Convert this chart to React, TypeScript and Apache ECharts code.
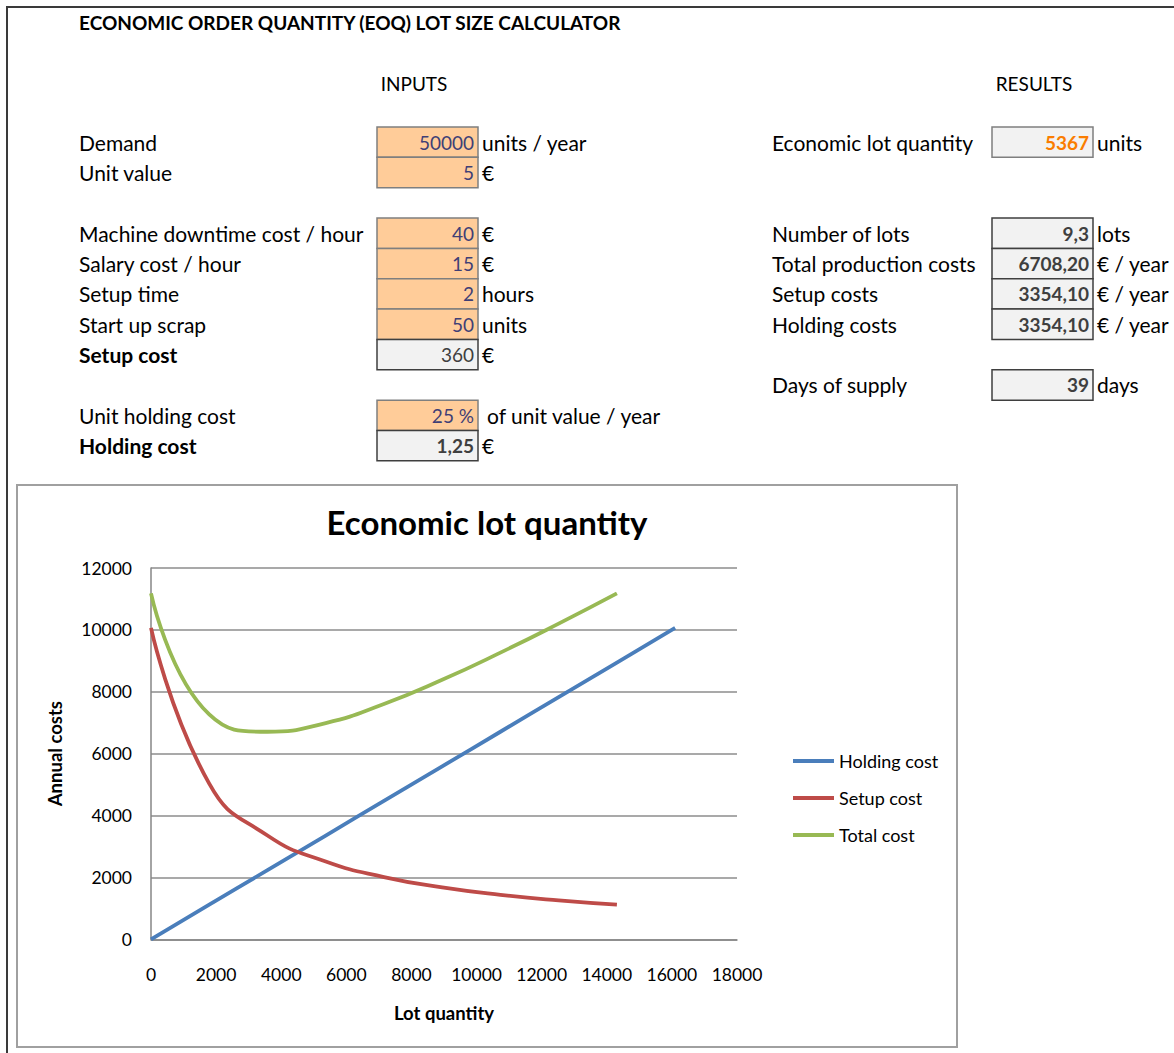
import { useEffect, useRef } from "react";
import * as echarts from "echarts";

// EOQ curve table: lot quantity steps of EOQ/3
const holdingLotQty = [0, 1789, 3578, 5367, 7155, 8944, 10733, 12522, 14311, 16100];
const holdingCost = [0, 1118, 2236, 3354, 4472, 5590, 6708, 7826, 8944, 10062];
const setupLotQty = [0, 1789, 3578, 5367, 7155, 8944, 10733, 12522, 14311];
const setupCost = [10062, 5031, 3354, 2516, 2012, 1677, 1437, 1258, 1118];
const totalCost = [11180, 7267, 6708, 6988, 7603, 8385, 9264, 10202, 11180];

// Calculator sheet
const inputLabels = [
  "Demand",
  "Unit value",
  "Machine downtime cost / hour",
  "Salary cost / hour",
  "Setup time",
  "Start up scrap",
  "Setup cost",
  "Unit holding cost",
  "Holding cost",
];
const inputValues = ["50000", "5", "40", "15", "2", "50", "360", "25 %", "1,25"];
const inputUnits = ["units / year", "€", "€", "€", "hours", "units", "€", "of unit value / year", "€"];
const inputKinds = ["in", "in", "in", "in", "in", "in", "out", "in", "out"];
const inputRows = [0, 1, 3, 4, 5, 6, 7, 9, 10];

const resultLabels = [
  "Economic lot quantity",
  "Number of lots",
  "Total production costs",
  "Setup costs",
  "Holding costs",
  "Days of supply",
];
const resultValues = ["5367", "9,3", "6708,20", "3354,10", "3354,10", "39"];
const resultUnits = ["units", "lots", "€ / year", "€ / year", "€ / year", "days"];
const resultKinds = ["calc", "out", "out", "out", "out", "out"];
const resultRows = [0, 3, 4, 5, 6, 8];

const FONT = "Lato";
const ROW_TOP = 127;
const ROW_H = 30.35;
const LABEL_SIZE = 21;
const VALUE_SIZE = 19;
const SMOOTH = 0.5;

function txt(x: number, y: number, text: string, opts: any = {}) {
  const align = opts.align || "left";
  return {
    type: "text",
    x,
    y,
    silent: true,
    style: {
      text,
      fontFamily: FONT,
      fontSize: opts.size || LABEL_SIZE,
      fontWeight: opts.bold ? "bold" : "normal",
      fill: opts.color || "#000",
      textAlign: align,
      align,
      textVerticalAlign: "middle",
      verticalAlign: "middle",
    },
  };
}

const cellStyles: Record<string, { fill: string; stroke: string; color: string }> = {
  in: { fill: "#FFCC99", stroke: "#7F7F7F", color: "#3F3F76" },
  out: { fill: "#F2F2F2", stroke: "#3F3F3F", color: "#3F3F3F" },
  calc: { fill: "#F2F2F2", stroke: "#7F7F7F", color: "#FA7D00" },
};

function cell(x0: number, x1: number, row: number, kind: string) {
  const s = cellStyles[kind];
  return {
    type: "rect",
    silent: true,
    shape: { x: x0, y: ROW_TOP + row * ROW_H, width: x1 - x0, height: ROW_H },
    style: { fill: s.fill, stroke: s.stroke, lineWidth: 1.5 },
  };
}

function buildSheet() {
  const els: any[] = [];
  // sheet frame
  els.push({
    type: "polyline",
    silent: true,
    shape: { points: [[1174, 7], [7, 7], [7, 1053]] },
    style: { stroke: "#3A3A3A", lineWidth: 2, fill: null },
  });
  els.push(txt(79, 22, "ECONOMIC ORDER QUANTITY (EOQ) LOT SIZE CALCULATOR", { bold: true, size: 19 }));
  els.push(txt(414, 83, "INPUTS", { align: "center", size: 19 }));
  els.push(txt(1034, 83, "RESULTS", { align: "center", size: 19 }));

  inputLabels.forEach((label, i) => {
    const row = inputRows[i];
    const kind = inputKinds[i];
    const cy = ROW_TOP + row * ROW_H + ROW_H / 2;
    els.push(cell(377, 478, row, kind));
    els.push(txt(79, cy, label, { bold: kind === "out" }));
    els.push(
      txt(474, cy, inputValues[i], {
        align: "right",
        size: VALUE_SIZE,
        color: cellStyles[kind].color,
        bold: kind === "out" && i !== 6,
      })
    );
    els.push(txt(i === 7 ? 487 : 482, cy, inputUnits[i]));
  });

  resultLabels.forEach((label, i) => {
    const row = resultRows[i];
    const kind = resultKinds[i];
    const cy = ROW_TOP + row * ROW_H + ROW_H / 2;
    els.push(cell(992, 1093, row, kind));
    els.push(txt(772, cy, label));
    els.push(
      txt(1089, cy, resultValues[i], { align: "right", size: VALUE_SIZE, color: cellStyles[kind].color, bold: true })
    );
    els.push(txt(1097, cy, resultUnits[i]));
  });

  // chart frame
  els.push({
    type: "rect",
    silent: true,
    shape: { x: 17, y: 485, width: 940, height: 562 },
    style: { fill: "#fff", stroke: "#A0A0A0", lineWidth: 2 },
    z: -10,
  });
  return els;
}

const zip = (xs: number[], ys: number[]) => ys.map((y, i) => [xs[i], y]);

export default function App() {
  const ref = useRef<HTMLDivElement>(null);

  useEffect(() => {
    const chart = echarts.init(ref.current!, null, { renderer: "svg" });
    chart.setOption({
      animation: false,
      backgroundColor: "#fff",
      textStyle: { fontFamily: FONT },
      graphic: { elements: buildSheet() },
      title: {
        text: "Economic lot quantity",
        left: 482,
        top: 500,
        textAlign: "center",
        textStyle: { fontFamily: FONT, fontSize: 33, fontWeight: "bold", color: "#000" },
      },
      legend: {
        orient: "vertical",
        left: 788,
        top: 747,
        icon: "rect",
        itemWidth: 41,
        itemHeight: 4,
        itemGap: 19,
        textStyle: { fontFamily: FONT, fontSize: 18, color: "#000" },
        data: ["Holding cost", "Setup cost", "Total cost"],
      },
      grid: { left: 151, top: 568, width: 586, height: 371.3, containLabel: false },
      xAxis: {
        type: "value",
        min: 0,
        max: 18000,
        interval: 2000,
        name: "Lot quantity",
        nameLocation: "middle",
        nameGap: 64,
        nameTextStyle: { fontFamily: FONT, fontSize: 18.5, fontWeight: "bold", color: "#000" },
        axisLine: { show: true, lineStyle: { color: "#868686", width: 1.5 } },
        axisTick: { show: false },
        axisLabel: {
          margin: 26,
          fontSize: 17.5,
          color: "#000",
          fontFamily: FONT,
          formatter: (v: number) => String(v),
        },
        splitLine: { show: false },
      },
      yAxis: {
        type: "value",
        min: 0,
        max: 12000,
        interval: 2000,
        name: "Annual costs",
        nameLocation: "middle",
        nameRotate: 90,
        nameGap: 87,
        nameTextStyle: { fontFamily: FONT, fontSize: 18.5, fontWeight: "bold", color: "#000" },
        axisLine: { show: true, lineStyle: { color: "#868686", width: 1.5 } },
        axisTick: { show: false },
        axisLabel: {
          margin: 19,
          fontSize: 17.5,
          color: "#000",
          fontFamily: FONT,
          formatter: (v: number) => String(v),
        },
        splitLine: { show: true, lineStyle: { color: "#8C8C8C", width: 1.5 } },
      },
      series: [
        {
          name: "Holding cost",
          type: "line",
          data: zip(holdingLotQty, holdingCost),
          showSymbol: false,
          symbol: "none",
          smooth: SMOOTH,
          color: "#4A7EBB",
          lineStyle: { color: "#4A7EBB", width: 3.8 },
        },
        {
          name: "Setup cost",
          type: "line",
          data: zip(setupLotQty, setupCost),
          showSymbol: false,
          symbol: "none",
          smooth: SMOOTH,
          color: "#BE4B48",
          lineStyle: { color: "#BE4B48", width: 3.8 },
        },
        {
          name: "Total cost",
          type: "line",
          data: zip(setupLotQty, totalCost),
          showSymbol: false,
          symbol: "none",
          smooth: SMOOTH,
          color: "#98B954",
          lineStyle: { color: "#98B954", width: 3.8 },
        },
      ],
    });
    return () => chart.dispose();
  }, []);

  return (
    <div
      ref={ref}
      style={{ position: "absolute", left: 0, top: 0, width: 1174, height: 1053, background: "#fff" }}
    />
  );
}
